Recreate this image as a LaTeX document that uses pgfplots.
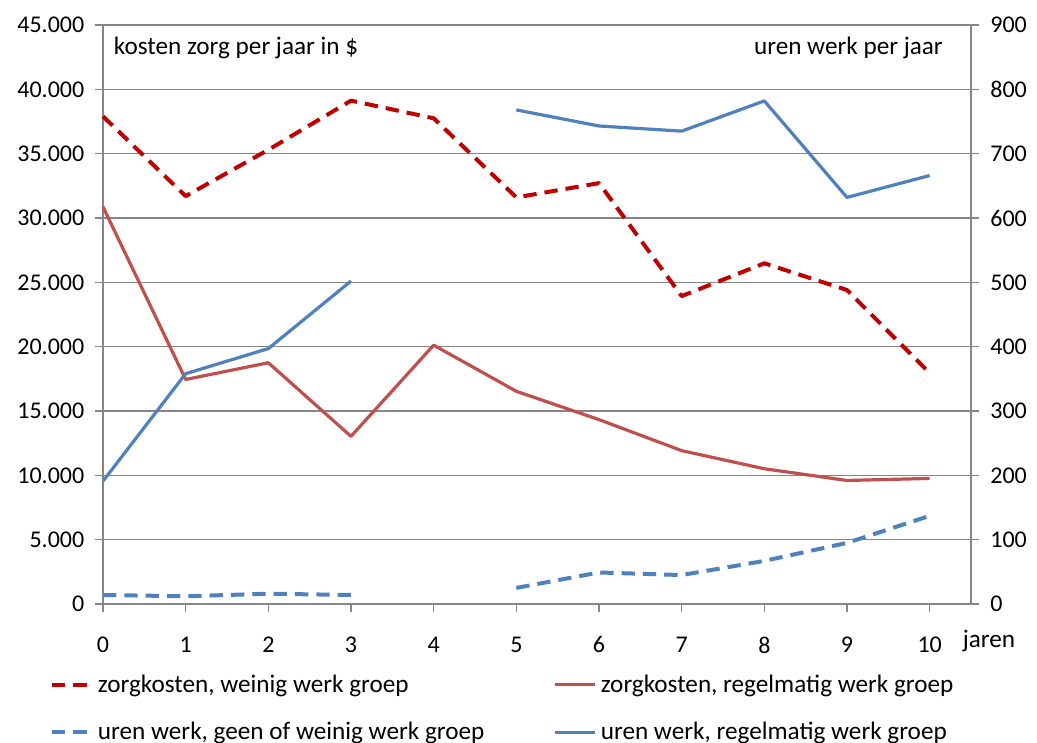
\documentclass[border=0pt]{standalone}
\usepackage{fontspec}
\setmainfont{Carlito}
\usepackage{pgfplots}
\pgfplotsset{compat=1.18}
\definecolor{gridgray}{HTML}{868686}
\definecolor{darkred}{HTML}{C00000}
\definecolor{softred}{HTML}{C0504D}
\definecolor{softblue}{HTML}{4F81BD}
\newcommand{\fs}{\fontsize{18}{21.6}\selectfont}
\newcommand{\fl}{\fontsize{18.9}{22.6}\selectfont}
\begin{document}
\begin{tikzpicture}
\pgfplotsset{
  common/.style={
    scale only axis, width=651pt, height=434.25pt,
    xmin=0, xmax=10.5,
    scaled ticks=false,
    axis line style={draw=gridgray, line width=0.9pt, -},
    tick align=outside, major tick length=6pt,
    tick style={draw=gridgray, line width=0.9pt},
    tick label style={font=\fs, text=black},
    /pgf/number format/assume math mode=true,
    line join=round,
  }
}
\begin{axis}[common,
  clip=false,
  ymin=0, ymax=45000,
  axis x line*=bottom, axis y line*=left,
  xtick={0,1,...,10},
  ytick={0,5000,10000,15000,20000,25000,30000,35000,40000,45000},
  yticklabels={0,5.000,10.000,15.000,20.000,25.000,30.000,35.000,40.000,45.000},
  ymajorgrids, grid style={draw=gridgray, line width=0.9pt},
  xticklabel style={yshift=-15pt},
  yticklabel style={xshift=-4.5pt},
  legend columns=2,
  legend cell align=left,
  legend style={draw=none, fill=none, font=\fl, inner sep=0pt,
    at={(rel axis cs:0,0)}, anchor=north west, xshift=-40pt, yshift=-50pt,
    row sep=15pt,
    nodes={inner sep=3pt},
    /tikz/every even column/.append style={column sep=49pt}},
  legend image code/.code={\draw[#1] (0pt,0pt) -- (30pt,0pt);},
]
\addlegendimage{darkred, line width=3pt, dash pattern=on 10pt off 6pt}
\addlegendentry{zorgkosten, weinig werk groep}
\addlegendimage{softred, line width=2.4pt}
\addlegendentry{zorgkosten, regelmatig werk groep}
\addlegendimage{softblue, line width=3pt, dash pattern=on 10pt off 6pt}
\addlegendentry{uren werk, geen of weinig werk groep}
\addlegendimage{softblue, line width=2.4pt}
\addlegendentry{uren werk, regelmatig werk groep}

\addplot[darkred, line width=3pt, dash pattern=on 10pt off 6pt, forget plot] coordinates {
(0,37900) (1,31700) (2,35300) (3,39120) (4,37750) (5,31600) (6,32710) (7,23930) (8,26480) (9,24400) (10,17950)};
\addplot[softred, line width=2.4pt, forget plot] coordinates {
(0,30870) (1,17450) (2,18750) (3,13030) (4,20120) (5,16530) (6,14330) (7,11920) (8,10510) (9,9600) (10,9760)};

\node[anchor=west, inner sep=0pt, font=\fl] at (rel axis cs:0,1) [xshift=8pt, yshift=-17pt] {kosten zorg per jaar in \$};
\node[anchor=east, inner sep=0pt, font=\fl] at (rel axis cs:1,1) [xshift=-21pt, yshift=-17pt] {uren werk per jaar};
\node[anchor=base, inner sep=0pt, font=\fl] at (rel axis cs:1,0) [xshift=13.5pt, yshift=-32.25pt] {jaren};
\end{axis}
\begin{axis}[common,
  ymin=0, ymax=900,
  axis x line=none, axis y line*=right,
  ytick={0,100,...,900},
  yticklabel style={xshift=5pt},
  unbounded coords=jump,
]
\addplot[softblue, line width=3pt, dash pattern=on 10pt off 6pt] coordinates {
(0,14) (1,12) (2,16) (3,14) (4,nan) (5,25) (6,49) (7,45) (8,67) (9,95) (10,137)};
\addplot[softblue, line width=2.4pt] coordinates {
(0,191) (1,358) (2,397) (3,502) (4,nan) (5,768) (6,743) (7,735) (8,782) (9,632) (10,666)};
\end{axis}
\pgfresetboundingbox
\path[use as bounding box] (-77.25pt,-103.5pt) rectangle (700.5pt,453pt);
\end{tikzpicture}
\end{document}
